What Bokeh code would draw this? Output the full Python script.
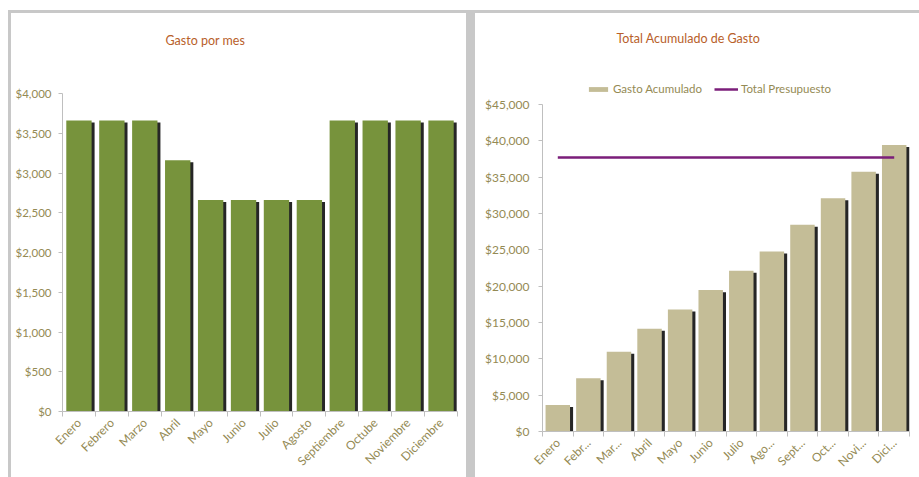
import math
from bokeh.plotting import figure
from bokeh.models import (ColumnDataSource, FixedTicker, NumeralTickFormatter, Range1d,
                          Legend, LegendItem, Spacer, SingleIntervalTicker, Label)
from bokeh.layouts import row, column
from bokeh.transform import dodge
from bokeh.embed import file_html
from bokeh.resources import INLINE

# ---------------- data ----------------
meses = ["Enero", "Febrero", "Marzo", "Abril", "Mayo", "Junio", "Julio",
         "Agosto", "Septiembre", "Octube", "Noviembre", "Diciembre"]
meses_cortos = ["Enero", "Febr...", "Mar...", "Abril", "Mayo", "Junio", "Julio",
                "Ago...", "Sept...", "Oct...", "Novi...", "Dici..."]
gasto_mensual = [3660, 3660, 3660, 3160, 2660, 2660, 2660, 2660, 3660, 3660, 3660, 3660]
gasto_acumulado = [3660, 7320, 10980, 14140, 16800, 19460, 22120, 24780,
                   28440, 32100, 35760, 39420]
total_presupuesto = [37700, 37700, 37700, 37700, 37700, 37700, 37700, 37700,
                     37700, 37700, 37700, 37700]
eje1_max, eje1_paso = 4000, 500
eje2_max, eje2_paso = 45000, 5000

# ---------------- styles ----------------
FONT = "Lato"
LABEL_COLOR = "#948A54"
TITLE_COLOR = "#B8602A"
AXIS_COLOR = "#BFBFBF"
GREEN = "#77933C"
TAN = "#C4BD97"
PURPLE = "#7B1E7A"
SHADOW = "#262626"
PANEL_GRAY = "#C8C8C8"

n = len(meses)
pos = [i + 0.5 for i in range(n)]
bounds = [float(i) for i in range(n + 1)]


def make_fig(width, height, left, right, bottom, axis_px, ymax):
    frame_h = height - bottom
    y_end = ymax * frame_h / axis_px
    p = figure(width=width, height=height, x_range=Range1d(0, n), y_range=Range1d(0, y_end),
               output_backend="svg", toolbar_location=None,
               min_border_left=left, min_border_right=right,
               min_border_top=0, min_border_bottom=bottom)
    p.frame_align = False
    return p


def style_axes(p, labels, ymax, y_interval, ysize, ystandoff):
    p.xaxis.ticker = FixedTicker(ticks=pos, minor_ticks=bounds)
    p.xaxis.major_label_overrides = {x: l for x, l in zip(pos, labels)}
    p.xaxis.major_label_orientation = math.pi / 4
    p.xaxis.major_tick_out = 0
    p.xaxis.major_tick_in = 0
    p.xaxis.minor_tick_out = 5
    p.xaxis.minor_tick_in = 0
    p.xaxis.minor_tick_line_color = AXIS_COLOR
    p.xaxis.major_label_standoff = 4
    p.yaxis.ticker = SingleIntervalTicker(interval=y_interval)
    p.yaxis.bounds = (0, ymax)
    p.yaxis.formatter = NumeralTickFormatter(format="$0,0")
    p.yaxis.major_tick_out = 4
    p.yaxis.major_tick_in = 0
    p.yaxis.minor_tick_line_color = None
    p.yaxis.major_label_standoff = ystandoff
    for ax in (p.xaxis, p.yaxis):
        ax.axis_line_color = AXIS_COLOR
        ax.major_tick_line_color = AXIS_COLOR
        ax.major_label_text_color = LABEL_COLOR
        ax.major_label_text_font = FONT
    p.xaxis.major_label_text_font_size = "12px"
    p.yaxis.major_label_text_font_size = ysize
    p.xgrid.grid_line_color = None
    p.ygrid.grid_line_color = None
    p.outline_line_color = None


def add_title(p, text, x, y):
    p.add_layout(Label(x=x, y=y, x_units="screen", y_units="screen", text=text,
                       text_font=FONT, text_font_size="12.5px", text_color=TITLE_COLOR,
                       text_baseline="middle", text_align="left"))


# ---------------- left chart ----------------
src1 = ColumnDataSource(dict(x=pos, v=gasto_mensual))
p1 = make_fig(455, 464, 51, 9, 66, 318, eje1_max)
p1.vbar(x=dodge("x", 0.09), top=dodge("v", -25), width=0.77, source=src1,
        fill_color=SHADOW, line_color=None)
p1.vbar(x="x", top="v", width=0.77, source=src1, fill_color=GREEN, line_color=None)
style_axes(p1, meses, eje1_max, eje1_paso, "11.5px", 7)
add_title(p1, "Gasto por mes", 103, 371)

# ---------------- right chart ----------------
src2 = ColumnDataSource(dict(x=pos, v=gasto_acumulado, b=total_presupuesto))
p2 = make_fig(444, 464, 67, 10, 46, 327, eje2_max)
p2.vbar(x=dodge("x", 0.1), top=dodge("v", -280), width=0.8, source=src2,
        fill_color=SHADOW, line_color=None)
bars = p2.vbar(x="x", top="v", width=0.8, source=src2, fill_color=TAN, line_color=None)
line = p2.line(x="x", y="b", source=src2, line_color=PURPLE, line_width=2.5)
style_axes(p2, meses_cortos, eje2_max, eje2_paso, "12px", 9)
add_title(p2, "Total Acumulado de Gasto", 74, 393)

legend = Legend(items=[LegendItem(label="Gasto Acumulado", renderers=[bars]),
                       LegendItem(label="Total Presupuesto", renderers=[line])],
                orientation="horizontal", location=(44, 336),
                border_line_color=None, background_fill_alpha=0,
                padding=0, margin=0, spacing=12, label_standoff=3,
                glyph_width=24, glyph_height=6, label_height=12,
                label_text_font=FONT, label_text_font_size="11.5px",
                label_text_color=LABEL_COLOR)
p2.add_layout(legend, "center")

# ---------------- panel frame ----------------
def gray(w, h):
    return Spacer(width=w, height=h, styles={"background-color": PANEL_GRAY})

layout = column(
    Spacer(width=919, height=10),
    row(Spacer(width=8, height=467),
        column(gray(911, 3),
               row(gray(3, 464), p1, gray(9, 464), p2))))

open("out.html", "w").write(file_html(layout, INLINE))
